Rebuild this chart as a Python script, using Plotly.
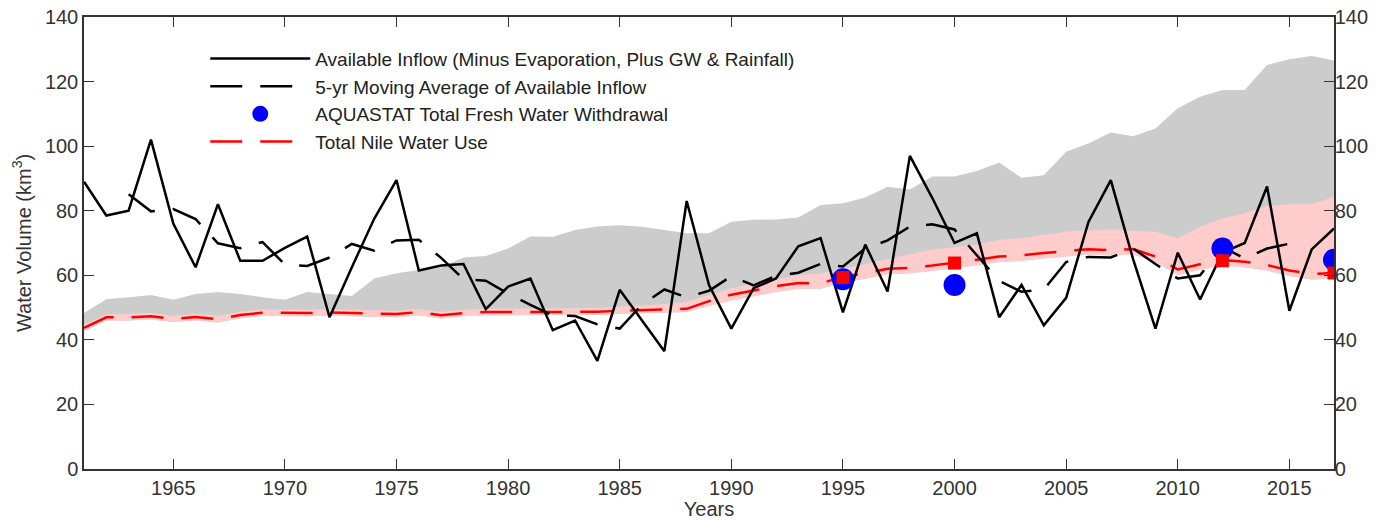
import plotly.graph_objects as go

years = list(range(1961, 2018))

inflow = [89, 78.5, 80, 102, 76, 62.5, 82, 64.5, 64.5, 68.5,
          72, 47, 62.5, 77.5, 89.5, 61.5, 63, 63.5, 49.5, 56.5,
          59, 43, 46, 33.5, 55.5, 46, 36.5, 83, 57, 43.5,
          56, 59, 69, 71.5, 48.5, 69.5, 55, 97, 84, 70,
          73, 47, 57, 44.5, 53, 76.5, 89.5, 65, 43.5, 67,
          52.5, 67, 70, 87.5, 49, 68, 74.5]

ma5 = [None, None,
       85.1, 79.8, 80.5, 77.4, 69.9, 68.4, 70.3, 63.3, 62.9, 65.5,
       69.7, 67.6, 70.8, 71, 65.4, 58.8, 58.3, 54.3, 50.8, 47.6,
       47.4, 44.8, 43.5, 50.9, 55.6, 53.2, 55.2, 59.7, 56.9, 59.8,
       60.8, 63.5, 62.7, 68.3, 70.8, 75.1, 75.8, 74.2, 66.2, 58.3,
       54.9, 55.6, 64.1, 65.7, 65.5, 68.3, 63.5, 59, 60, 68.8,
       65.2, 68.3, 69.8,
       None, None]

nile_use = [43.7, 47, 47, 47.3, 46.5, 47.1, 46.4, 47.7, 48.4, 48.3,
            48.3, 48.5, 48.3, 48.1, 48, 48.6, 47.6, 48.3, 48.6, 48.6,
            48.6, 48.6, 48.7, 48.7, 49, 49.2, 49.3, 49.6, 52, 54,
            55.3, 56.6, 57.6, 57.5, 59.5, 60.6, 62, 62.3, 63, 63.8,
            64.8, 65.8, 66.2, 66.9, 67.6, 68.1, 67.8, 68.1, 65.8, 61.8,
            63.4, 64.7, 64.2, 63.2, 61.5, 60.4, 60.7]

grey_hi = [48.3, 52.6, 53.2, 53.9, 52.4, 54.2, 54.8, 54.2, 53.2, 52.4,
           54.8, 54.2, 53.6, 59, 60.6, 61.6, 62.4, 65.5, 66, 68.3,
           72, 71.9, 74, 75.1, 75.5, 75, 74, 73, 73, 76.6,
           77.2, 77.3, 77.9, 81.8, 82.3, 84.1, 87.4, 86.6, 90.6, 90.6,
           92.3, 94.9, 90.2, 91, 98.3, 100.8, 104.2, 103.1, 105.5, 111.7,
           115.3, 117.4, 117.4, 125.1, 126.9, 127.9, 126.5]

pink_hi = [44.7, 48, 48, 48.3, 47.5, 48.1, 47.4, 48.7, 49.4, 49.3,
           49.3, 49.5, 49.3, 49.1, 49, 49.6, 48.6, 49.3, 49.6, 49.6,
           49.6, 49.6, 49.8, 49.9, 50.3, 50.7, 51.1, 51.8, 53.8, 56,
           57.4, 58.8, 60, 60.5, 62.2, 63.5, 65, 66.5, 68, 68.7,
           69.5, 70.9, 71.5, 72.5, 73.5, 74, 74.2, 73.7, 73.5, 71.5,
           75, 77.6, 79.2, 81.5, 82, 82, 84.3]

pink_lo = [42.7, 46, 46, 46.3, 45.5, 46.1, 45.4, 46.7, 47.4, 47.3,
           47.3, 47.5, 47.3, 47.1, 47, 47.6, 46.6, 47.3, 47.6, 47.6,
           47.6, 47.6, 47.7, 47.7, 48, 48.2, 48.3, 48.6, 50.5, 52.2,
           53.5, 54.8, 55.8, 55.8, 57.8, 58.9, 60.3, 60.6, 61.3, 62.1,
           63.1, 64.1, 64.5, 65.2, 65.9, 66.4, 66.1, 66.4, 64.1, 60.1,
           61.7, 63, 62.5, 61.5, 59.8, 58.7, 59]

aquastat_years = [1995, 2000, 2012, 2017]
aquastat_vals = [58.8, 57, 68.3, 64.8]

nile_pt_years = [1995, 2000, 2012, 2017]
nile_pt_vals = [59.3, 63.8, 64.5, 60.7]

xticks = [1965, 1970, 1975, 1980, 1985, 1990, 1995, 2000, 2005, 2010, 2015]
yticks = [0, 20, 40, 60, 80, 100, 120, 140]

FONT = "Liberation Sans, Arial, Helvetica, sans-serif"

fig = go.Figure()

# grey band
fig.add_trace(go.Scatter(x=years, y=pink_lo, mode="lines", line=dict(width=0),
                         showlegend=False, hoverinfo="skip"))
fig.add_trace(go.Scatter(x=years, y=grey_hi, mode="lines", line=dict(width=0),
                         fill="tonexty", fillcolor="#cccccc",
                         showlegend=False, hoverinfo="skip"))
# pink band
fig.add_trace(go.Scatter(x=years, y=pink_lo, mode="lines", line=dict(width=0),
                         showlegend=False, hoverinfo="skip"))
fig.add_trace(go.Scatter(x=years, y=pink_hi, mode="lines", line=dict(width=0),
                         fill="tonexty", fillcolor="#ffcccc",
                         showlegend=False, hoverinfo="skip"))

fig.add_trace(go.Scatter(x=years, y=nile_use, mode="lines",
                         name="Total Nile Water Use",
                         line=dict(color="#ff0000", width=2.5, dash="32px,18px"),
                         legendrank=4))
fig.add_trace(go.Scatter(x=years, y=inflow, mode="lines",
                         name="Available Inflow (Minus Evaporation, Plus GW & Rainfall)",
                         line=dict(color="black", width=2.5), legendrank=1))
fig.add_trace(go.Scatter(x=years, y=ma5, mode="lines",
                         name="5-yr Moving Average of Available Inflow",
                         line=dict(color="black", width=2.5, dash="32px,18px"),
                         connectgaps=False, legendrank=2))
fig.add_trace(go.Scatter(x=aquastat_years, y=aquastat_vals, mode="markers",
                         name="AQUASTAT Total Fresh Water Withdrawal",
                         marker=dict(color="#0000ff", size=22, symbol="circle"),
                         legendrank=3))
fig.add_trace(go.Scatter(x=nile_pt_years, y=nile_pt_vals, mode="markers",
                         marker=dict(color="#ff0000", size=13, symbol="square"),
                         showlegend=False, yaxis="y2"))

axis_common = dict(showline=True, linecolor="#333333", linewidth=1.5,
                   ticks="inside", ticklen=10, tickcolor="#333333", tickwidth=1.2,
                   showgrid=False, zeroline=False, automargin=False,
                   ticklabeloverflow="allow",
                   tickfont=dict(family=FONT, size=20, color="#333333"))

fig.update_layout(
    width=1379, height=520,
    margin=dict(l=84, r=45, t=17, b=51),
    paper_bgcolor="white", plot_bgcolor="white",
    font=dict(family=FONT, color="#222222"),
    xaxis=dict(range=[1961, 2017], tickvals=xticks, mirror="ticks",
               title=dict(text="Years", font=dict(family=FONT, size=20, color="#333333"),
                          standoff=0),
               **axis_common),
    yaxis=dict(range=[0, 140], tickvals=yticks,
               title=dict(text="Water Volume (km<sup>3</sup>)",
                          font=dict(family=FONT, size=20, color="#333333"), standoff=8),
               **axis_common),
    yaxis2=dict(range=[0, 140], tickvals=yticks, overlaying="y", side="right",
                ticklabelstandoff=-5, **axis_common),
    legend=dict(x=0.097, y=0.95, xanchor="left", yanchor="top",
                bgcolor="rgba(0,0,0,0)", borderwidth=0,
                font=dict(family=FONT, size=19, color="#222222"),
                itemwidth=100, traceorder="normal", tracegroupgap=0),
    showlegend=True,
)

fig.write_html("out.html",
               config={"displayModeBar": False},
               post_script="document.body.style.margin='0';document.body.style.overflow='hidden';")
